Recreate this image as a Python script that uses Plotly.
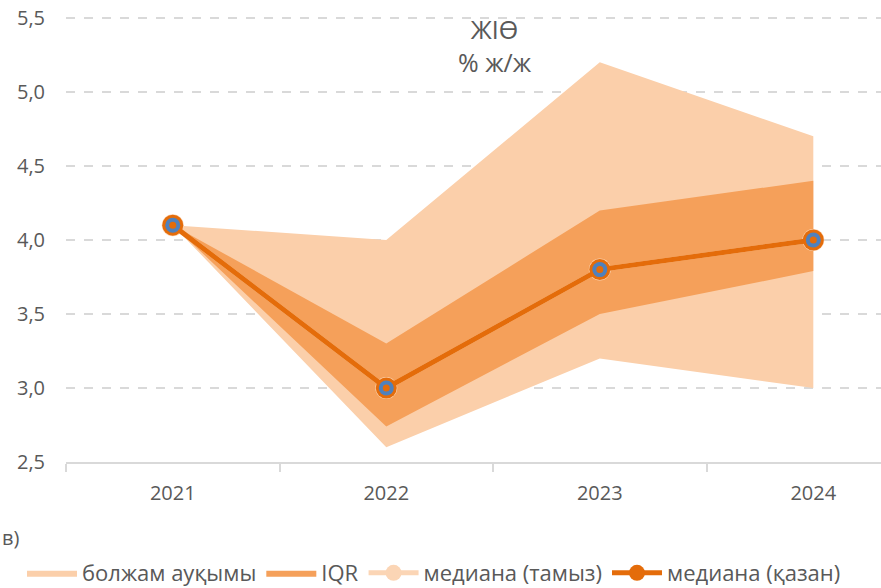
import plotly.graph_objects as go

years = ["2021", "2022", "2023", "2024"]
range_upper = [4.1, 4.0, 5.2, 4.7]
range_lower = [4.1, 2.6, 3.2, 3.0]
iqr_upper = [4.1, 3.3, 4.2, 4.4]
iqr_lower = [4.1, 2.74, 3.5, 3.79]
median_aug = [4.1, 3.0, 3.8, 4.0]
median_oct = [4.1, 3.0, 3.8, 4.0]
y_ticks = [2.5, 3.0, 3.5, 4.0, 4.5, 5.0, 5.5]

xpos = list(range(len(years)))

C_RANGE = "#FBCFAA"
C_IQR = "#F5A05A"
C_AUG = "#FBD5B5"
C_OCT = "#E46C0A"
C_BLUE = "#4F81BD"
TXT = "#595959"
FONT = "Open Sans, Liberation Sans, sans-serif"

fig = go.Figure()

fig.add_trace(go.Scatter(
    x=xpos + xpos[::-1], y=range_upper + range_lower[::-1],
    fill="toself", fillcolor=C_RANGE, line=dict(width=0, color=C_RANGE),
    mode="lines", name="болжам ауқымы", hoverinfo="skip"))
fig.add_trace(go.Scatter(
    x=xpos + xpos[::-1], y=iqr_upper + iqr_lower[::-1],
    fill="toself", fillcolor=C_IQR, line=dict(width=0, color=C_IQR),
    mode="lines", name="IQR", hoverinfo="skip"))
fig.add_trace(go.Scatter(
    x=xpos, y=median_aug, mode="lines+markers", name="медиана (тамыз)",
    line=dict(color=C_AUG, width=5), marker=dict(color=C_AUG, size=22)))
fig.add_trace(go.Scatter(
    x=xpos, y=median_oct, mode="lines+markers", name="медиана (қазан)",
    line=dict(color=C_OCT, width=5), marker=dict(color=C_OCT, size=21)))
fig.add_trace(go.Scatter(
    x=xpos, y=median_oct, mode="markers", showlegend=False,
    marker=dict(color=C_BLUE, size=15)))
fig.add_trace(go.Scatter(
    x=xpos, y=median_oct, mode="markers", showlegend=False,
    marker=dict(color=C_OCT, size=7)))

fig.update_layout(
    width=881, height=588,
    margin=dict(l=66, r=0, t=15, b=126, autoexpand=False),
    paper_bgcolor="white", plot_bgcolor="white",
    separators=", ",
    font=dict(family=FONT, color=TXT, size=20),
    showlegend=True,
    legend=dict(orientation="h", x=(22 - 66) / 815, xanchor="left",
                y=-(573 - 462) / 447, yanchor="middle",
                font=dict(size=22, color=TXT), itemwidth=50, tracegroupgap=0,
                bgcolor="rgba(0,0,0,0)"),
    annotations=[
        dict(text="ЖІӨ<br>% ж/ж", xref="paper", yref="paper",
             x=(495 - 66) / 815, y=1 - (45 - 15) / 447, xanchor="center", yanchor="middle",
             showarrow=False, font=dict(size=25, color=TXT, family=FONT)),
        dict(text="в)", xref="paper", yref="paper",
             x=(0 - 66) / 815, y=-(537 - 462) / 447, xanchor="left", yanchor="middle",
             showarrow=False, font=dict(size=20, color=TXT, family=FONT)),
    ],
)

fig.update_xaxes(
    range=[-0.5, 3.317], tickmode="array", tickvals=xpos, ticktext=years,
    ticks="", showgrid=False, showline=True, linecolor="#D9D9D9", linewidth=2,
    zeroline=False, ticklabelstandoff=12, automargin=False,
    tickfont=dict(size=20, color=TXT, family=FONT),
    minor=dict(tickmode="array", tickvals=[-0.5, 0.5, 1.5, 2.5], ticks="outside",
               ticklen=8, tickwidth=2, tickcolor="#D9D9D9", showgrid=False),
)
fig.update_yaxes(
    range=[2.5, 5.52], tickmode="array", tickvals=y_ticks, tickformat=".1f",
    showgrid=True, gridcolor="#D9D9D9", griddash="dash", gridwidth=1.5,
    zeroline=False, showline=False, ticks="", ticklabelstandoff=20, automargin=False,
    tickfont=dict(size=20, color=TXT, family=FONT),
)

fig.write_html("out.html", config={"displayModeBar": False},
               post_script="document.body.style.margin='0';document.body.style.overflow='hidden';")
